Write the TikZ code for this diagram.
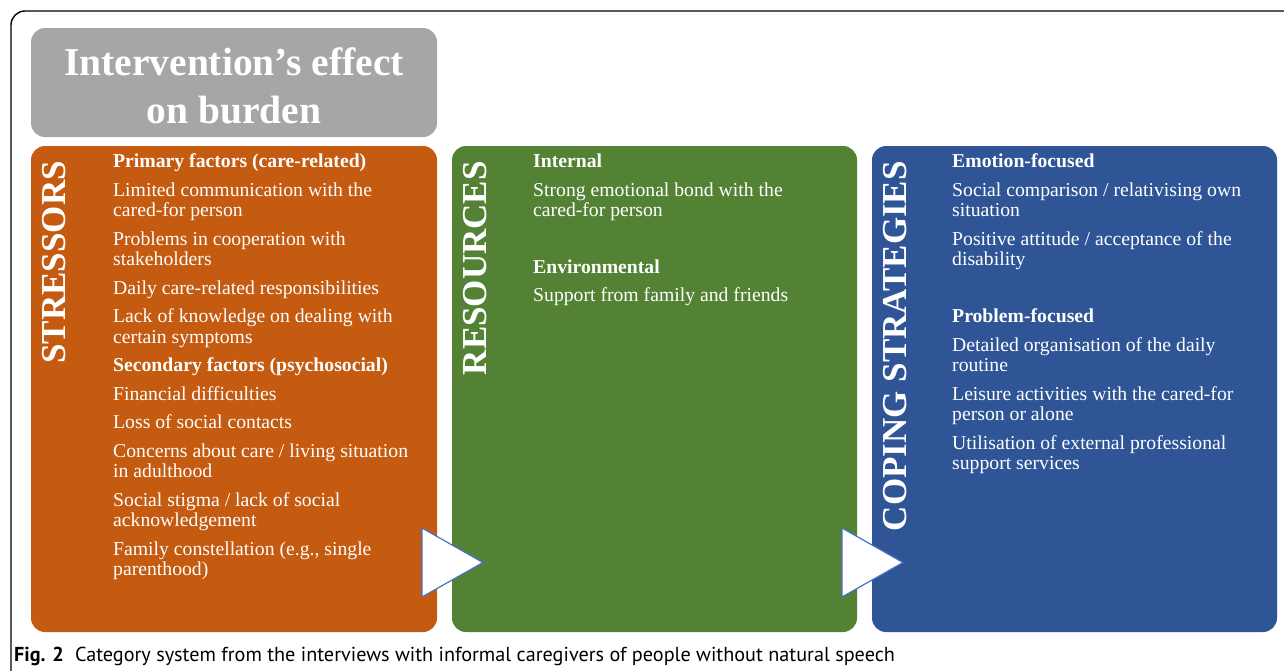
\documentclass[tikz,border=0pt]{standalone}
\usepackage{fontspec}
\setmainfont{Liberation Serif}
\newfontfamily\capfont{PT Sans}
\usetikzlibrary{positioning}

\definecolor{stressorange}{HTML}{C55A11}
\definecolor{resgreen}{HTML}{548235}
\definecolor{copeblue}{HTML}{2F5597}
\definecolor{headgray}{HTML}{A6A6A6}
\definecolor{chevline}{HTML}{4472C4}

\begin{document}
\begin{tikzpicture}[x=1pt,y=-1pt,
  panel/.style={rounded corners=14pt},
  item/.style={anchor=base west,inner sep=0pt,text=white,font=\fontsize{19.7}{20}\selectfont},
  side/.style={rotate=90,anchor=east,inner sep=0pt,text=white,font=\fontsize{35}{35}\selectfont\bfseries},
  chevron/.style={draw=chevline,fill=white,line width=1.2pt,line join=miter}]
\useasboundingbox (0,0) rectangle (1284,670);

% outer frame
\draw[line width=1.4pt,rounded corners=14pt] (11,672) -- (11,11) -- (1286,11);

% panels
\fill[headgray,panel] (31,28) rectangle (437,137);
\fill[stressorange,panel] (31,146) rectangle (437,632);
\fill[resgreen,panel] (452,146) rectangle (857,632);
\fill[copeblue,panel] (872,146) rectangle (1277,632);

\node[align=center,anchor=north,inner sep=0pt,text=white,font=\fontsize{39.5}{48.7}\selectfont\bfseries] (title) at (234,47) {Intervention's effect\\on burden};

\node[side] (stress) at (54.5,161) {STRESSORS};
\node[side] (res) at (475.5,161) {RESOURCES};
\node[side] (cope) at (895.5,161) {COPING STRATEGIES};

% stressors
\foreach \y/\t [count=\i] in {
  167/{\textbf{Primary factors (care-related)}},
  196/{Limited communication with the},
  216.5/{cared-for person},
  245/{Problems in cooperation with},
  265.5/{stakeholders},
  294/{Daily care-related responsibilities},
  322.5/{Lack of knowledge on dealing with},
  343/{certain symptoms},
  371.5/{\textbf{Secondary factors (psychosocial)}},
  400/{Financial difficulties},
  428.5/{Loss of social contacts},
  457/{Concerns about care / living situation},
  477.5/{in adulthood},
  506/{Social stigma / lack of social},
  526.5/{acknowledgement},
  555/{Family constellation (e.g., single},
  575.5/{parenthood)}}
  \node[item] (s\i) at (113,\y) {\t};

% resources
\foreach \y/\t [count=\i] in {
  167/{\textbf{Internal}},
  196/{Strong emotional bond with the},
  216.5/{cared-for person},
  273/{\textbf{Environmental}},
  301.5/{Support from family and friends}}
  \node[item] (r\i) at (533,\y) {\t};

% coping strategies
\foreach \y/\t [count=\i] in {
  167/{\textbf{Emotion-focused}},
  196/{Social comparison / relativising own},
  216.5/{situation},
  245/{Positive attitude / acceptance of the},
  265.5/{disability},
  322.5/{\textbf{Problem-focused}},
  351/{Detailed organisation of the daily},
  371.5/{routine},
  400/{Leisure activities with the cared-for},
  420.5/{person or alone},
  449/{Utilisation of external professional},
  469.5/{support services}}
  \node[item] (c\i) at (952,\y) {\t};

% arrows between panels
\draw[chevron] (422,528) -- (422,597) -- (483,562.5) -- cycle;
\draw[chevron] (842,528) -- (842,597) -- (903,562.5) -- cycle;

\node[anchor=base west,inner sep=0pt,font=\capfont\fontsize{20.2}{22}\selectfont] (caption) at (14,661)
  {\textbf{Fig. 2}\hspace{0.55em}Category system from the interviews with informal caregivers of people without natural speech};
\end{tikzpicture}
\end{document}
